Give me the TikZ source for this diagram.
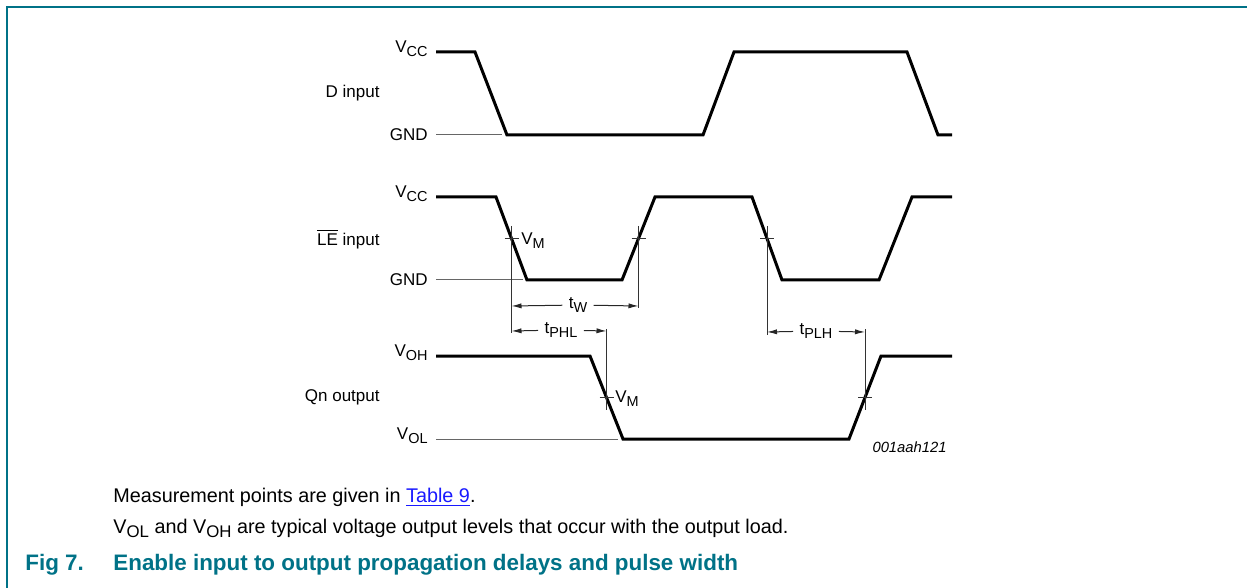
\documentclass[tikz,border=0pt]{standalone}
\usepackage{fontspec}
\setmainfont{Liberation Sans}
\usepackage{xcolor}
\usepackage{tikz}
\usetikzlibrary{arrows.meta}

\definecolor{nxpteal}{RGB}{0,114,135}
\definecolor{linkblue}{RGB}{25,25,255}

\newcommand{\lowsub}[1]{\raisebox{-0.45ex}{\scalebox{0.85}{#1}}}
\newcommand{\lblfont}{\fontsize{8.5}{10}\selectfont}
\newcommand{\txtfont}{\fontsize{9.9}{12}\selectfont}
\newcommand{\capfont}{\fontsize{11.2}{13}\selectfont\bfseries}

\begin{document}
\begin{tikzpicture}[x=0.5pt, y=-0.5pt,
  wave/.style={line width=1.5pt, line join=miter},
  level/.style={black!60, line width=0.5pt},
  guide/.style={black!80, line width=0.5pt},
  dim/.style={black!85, line width=0.5pt, -{Latex[length=5pt,width=2.6pt]}},
  lbl/.style={font=\lblfont, inner sep=0pt},
  dimlbl/.style={font=\lblfont, inner sep=3pt}]
  \useasboundingbox (0,0) rectangle (1247,588);

  % Frame of the figure
  \draw[nxpteal, line width=1pt] (1247,7) -- (7,7) -- (7,588);

  % D input
  \node[lbl, anchor=east] (dvcc) at (428,49) {V\lowsub{CC}};
  \node[lbl, anchor=east] (dgnd) at (428,135) {GND};
  \node[lbl, anchor=east] (dname) at (380,93) {D input};
  \draw[level] (436,135) -- (502,135);
  \draw[wave] (436,52) -- (475,52) -- (507,135) -- (703,135) -- (734,52)
    -- (907,52) -- (938,135) -- (952,135);

  % LE input
  \node[lbl, anchor=east] (levcc) at (428,194) {V\lowsub{CC}};
  \node[lbl, anchor=east] (legnd) at (428,280) {GND};
  \node[lbl, anchor=east] (lename) at (380,239) {$\overline{\mbox{LE}}$ input};
  \draw[level] (436,280) -- (523,280);
  \draw[wave] (436,197) -- (496,197) -- (527,280) -- (622,280) -- (655,197)
    -- (752,197) -- (782,280) -- (879,280) -- (912,197) -- (952,197);

  % Qn output
  \node[lbl, anchor=east] (qvoh) at (428,353) {V\lowsub{OH}};
  \node[lbl, anchor=east] (qvol) at (428,436) {V\lowsub{OL}};
  \node[lbl, anchor=east] (qname) at (380,397) {Qn output};
  \draw[level] (436,439) -- (618,439);
  \draw[wave] (436,356) -- (590,356) -- (623,439) -- (849,439) -- (881,356)
    -- (952,356);

  % VM crossing points
  \coordinate (m1) at (511.5,238.5);
  \coordinate (m2) at (638.5,238.5);
  \coordinate (m3) at (767,238.5);
  \coordinate (q1) at (606.5,397.5);
  \coordinate (q2) at (865,397.5);

  % Ticks and measuring lines
  \foreach \p in {m1,m2,m3,q1,q2}
    \draw[guide] ([xshift=-3.5pt]\p) -- ([xshift=3.5pt]\p);
  \draw[guide] (m1 |- 0,226) -- (m1 |- 0,333);
  \draw[guide] (m2 |- 0,226) -- (m2 |- 0,308);
  \draw[guide] (m3 |- 0,226) -- (m3 |- 0,335);
  \draw[guide] (q1 |- 0,329) -- (q1 |- 0,410);
  \draw[guide] (q2 |- 0,329) -- (q2 |- 0,410);

  \node[lbl, anchor=west] (vm1) at (521,241) {V\lowsub{M}};
  \node[lbl, anchor=west] (vm2) at (615,399) {V\lowsub{M}};

  % Timing arrows
  \coordinate (twl) at (m1 |- 0,306);
  \coordinate (twr) at (m2 |- 0,306);
  \node[dimlbl] (tw) at (578,305) {t\lowsub{W}};
  \draw[dim] (tw) -- (twl);
  \draw[dim] (tw) -- (twr);

  \coordinate (phll) at (m1 |- 0,331);
  \coordinate (phlr) at (q1 |- 0,331);
  \node[dimlbl] (tphl) at (561,330) {t\lowsub{PHL}};
  \draw[dim] (tphl) -- (phll);
  \draw[dim] (tphl) -- (phlr);

  \coordinate (plhl) at (m3 |- 0,332);
  \coordinate (plhr) at (q2 |- 0,332);
  \node[dimlbl] (tplh) at (816,331) {t\lowsub{PLH}};
  \draw[dim] (tplh) -- (plhl);
  \draw[dim] (tplh) -- (plhr);

  \node[font=\fontsize{7.4}{9}\selectfont\itshape, anchor=east, inner sep=0pt] (tag) at (947,447) {001aah121};

  % Notes and caption
  \node[font=\txtfont, anchor=base west, inner sep=0pt] (note1) at (113,502)
    {Measurement points are given in \textcolor{linkblue}{\underline{Table 9}}.};
  \node[font=\txtfont, anchor=base west, inner sep=0pt] (note2) at (113,533)
    {V\lowsub{OL} and V\lowsub{OH} are typical voltage output levels that occur with the output load.};
  \node[font=\capfont, text=nxpteal, anchor=base west, inner sep=0pt] (fignum) at (25,570) {Fig 7.};
  \node[font=\capfont, text=nxpteal, anchor=base west, inner sep=0pt] (figtitle) at (113,570)
    {Enable input to output propagation delays and pulse width};
\end{tikzpicture}
\end{document}
